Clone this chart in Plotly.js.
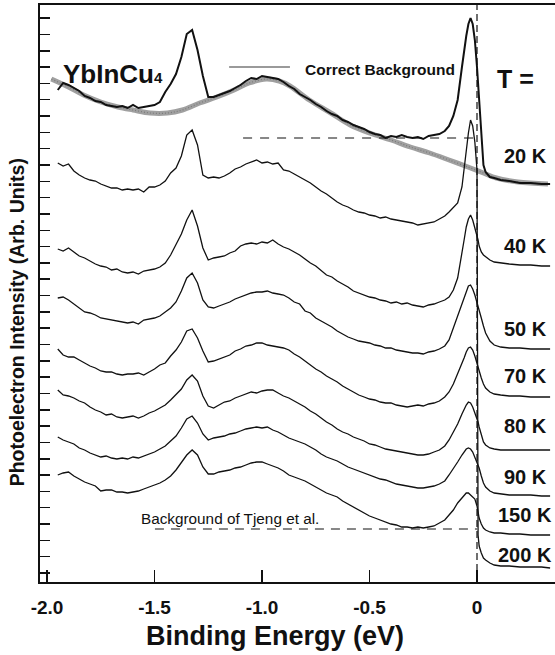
<!DOCTYPE html>
<html>
<head>
<meta charset="utf-8">
<script src="https://cdn.plot.ly/plotly-3.0.1.min.js"></script>
<style>html,body{margin:0;padding:0;background:#fff;}#chart{width:555px;height:655px;}</style>
</head>
<body>
<div id="chart"></div>
<script>
// Binding energy grid (eV) shared by the spectra
const energy = [-1.950,-1.925,-1.900,-1.875,-1.850,-1.825,-1.800,-1.775,-1.750,-1.725,-1.700,-1.675,-1.650,-1.625,-1.600,-1.575,-1.550,-1.525,-1.500,-1.475,-1.450,-1.425,-1.400,-1.375,-1.350,-1.325,-1.300,-1.275,-1.250,-1.225,-1.200,-1.175,-1.150,-1.125,-1.100,-1.075,-1.050,-1.025,-1.000,-0.975,-0.950,-0.925,-0.900,-0.875,-0.850,-0.825,-0.800,-0.775,-0.750,-0.725,-0.700,-0.675,-0.650,-0.625,-0.600,-0.575,-0.550,-0.525,-0.500,-0.475,-0.450,-0.425,-0.400,-0.375,-0.350,-0.325,-0.300,-0.275,-0.250,-0.225,-0.200,-0.175,-0.150,-0.130,-0.110,-0.090,-0.070,-0.060,-0.050,-0.040,-0.030,-0.020,-0.010,0.000,0.005,0.010,0.020,0.030,0.040,0.060,0.080,0.110,0.150,0.200,0.250,0.300,0.340];

// Spectra (arbitrary units, offset)
const raw20K = [49.2,49.9,49.7,49.4,49.1,48.6,48.4,48.1,48.0,47.7, 47.6,47.5,47.6,47.4,47.7,47.4,47.5,47.6,47.7,48.0, 49.0,49.8,50.8,52.5,54.8,55.2,53.2,50.6,48.5,48.5, 48.7,48.9,49.1,49.4,49.7,50.1,50.4,50.3,50.6,50.5, 50.4,50.3,50.0,49.6,49.3,48.8,48.5,48.2,47.8,47.5, 47.1,46.8,46.6,46.2,46.0,45.7,45.5,45.3,45.0,44.8, 44.7,44.4,44.6,44.5,44.7,44.5,44.4,44.5,44.3,44.6, 44.7,44.8,45.1,45.6,46.6,48.2,51.5,53.2,54.6,55.8, 56.4,55.8,54.2,51.5,49.7,48.0,44.7,41.7,41.0,40.5, 40.4,40.2,40.1,39.9,39.9,39.8,39.8];
const spec20K = [41.9,41.6,41.8,41.1,40.7,40.4,40.2,40.1,39.8,39.6, 39.4,39.4,39.2,39.3,39.2,39.3,39.0,39.5,39.5,39.7, 40.1,40.9,41.4,42.6,44.7,45.2,43.7,40.7,40.4,40.5, 40.4,40.6,40.9,41.3,41.5,41.8,42.0,42.2,41.9,42.0, 41.8,41.9,41.2,41.1,40.8,40.5,40.2,39.9,39.5,39.1, 38.8,38.4,38.0,37.7,37.5,37.2,37.0,36.9,36.7,36.6, 36.4,36.5,36.3,36.2,36.1,36.0,35.9,35.7,35.8,35.9, 36.0,36.3,36.6,37.0,37.4,37.9,39.5,41.4,43.0,44.9, 46.2,45.6,44.0,41.2,4.7,3.6,2.9,2.4,2.2,1.9, 1.7,1.6,1.6,1.5,1.5,1.5,1.4];
const spec40K = [33.3,33.1,33.4,33.0,32.6,32.4,32.1,31.8,31.6,31.5, 31.2,31.3,31.0,30.9,31.0,30.8,31.1,31.2,31.3,31.5, 31.9,32.7,33.7,34.8,36.2,37.2,35.6,33.4,32.2,32.4, 32.5,32.6,32.9,33.1,33.6,33.8,33.9,33.8,34.0,33.9, 34.2,33.8,33.5,33.3,33.0,32.7,32.3,31.9,31.6,31.1, 30.7,30.5,30.1,29.8,29.5,29.1,28.9,28.7,28.5,28.4, 28.2,28.1,27.9,28.0,27.8,27.9,27.7,27.6,27.5,27.7, 27.8,28.0,28.2,28.5,29.2,30.4,32.7,34.2,35.5,36.3, 36.7,36.2,35.4,34.7,34.2,33.6,33.0,32.7,32.5,32.2, 32.0,31.9,31.8,31.7,31.7,31.6,31.6];
const spec50K = [28.4,28.5,28.2,27.8,27.4,27.0,26.9,26.7,26.4,26.3, 26.2,26.1,26.0,25.9,26.0,25.8,26.2,26.3,26.4,26.6, 27.0,27.4,28.0,29.1,30.4,30.9,29.9,28.2,27.5,27.4, 27.6,27.8,28.0,28.3,28.5,28.7,28.9,29.0,29.0,29.1, 28.9,28.8,28.7,28.4,28.0,27.8,27.1,26.9,26.4,26.1, 25.8,25.5,25.1,24.8,24.5,24.3,24.1,24.0,23.9,23.7, 23.6,23.4,23.4,23.2,23.1,23.0,22.9,22.9,22.8,23.0, 23.1,23.3,23.6,24.2,25.4,26.6,28.0,28.6,29.2,29.6, 29.7,29.3,28.7,28.0,27.6,27.1,26.4,25.6,24.9,24.1, 23.7,23.5,23.4,23.4,23.3,23.3,23.3];
const spec70K = [23.3,22.7,22.5,22.5,22.2,21.9,21.6,21.4,21.1,21.0, 21.0,20.8,20.7,20.8,20.8,20.9,20.7,21.0,21.3,21.7, 21.9,22.6,23.2,24.0,25.1,25.3,24.4,23.1,22.0,22.1, 22.3,22.5,22.7,23.1,23.3,23.6,23.7,23.9,23.9,23.7, 23.6,23.5,23.4,23.2,22.8,22.5,22.1,21.7,21.3,21.0, 20.6,20.3,20.0,19.6,19.3,19.0,18.7,18.5,18.3,18.2, 18.0,17.9,17.9,17.7,17.6,17.5,17.6,17.7,17.6,17.8, 17.9,18.1,18.5,19.0,19.8,20.8,21.8,22.4,23.0,23.4, 23.5,23.2,22.6,21.8,21.4,21.0,20.4,19.8,19.4,19.0, 18.8,18.7,18.6,18.6,18.5,18.5,18.5];
const spec80K = [19.2,18.7,18.6,18.4,18.1,17.9,17.5,17.2,17.0,16.7, 16.8,16.5,16.4,16.5,16.6,16.4,16.6,16.9,17.1,17.4, 17.7,18.2,18.7,19.3,20.2,20.7,20.1,18.6,17.6,17.4, 17.7,18.0,18.1,18.4,18.6,18.8,19.0,18.9,19.1,19.2, 19.2,18.9,18.6,18.4,18.1,17.8,17.5,17.1,16.8,16.4, 16.0,15.7,15.3,15.0,14.8,14.5,14.3,14.1,13.8,13.7, 13.5,13.3,13.2,13.1,13.0,12.9,12.8,12.7,12.7,12.8, 13.0,13.2,13.6,14.2,15.0,15.8,16.8,17.3,17.7,18.0, 17.9,17.5,16.9,16.4,16.0,15.5,14.6,14.0,13.7,13.4, 13.3,13.2,13.2,13.2,13.2,13.2,13.2];
const spec90K = [14.5,14.2,14.0,13.8,13.4,13.2,12.9,12.7,12.5,12.6, 12.4,12.3,12.4,12.3,12.5,12.4,12.6,12.8,13.0,13.3, 13.6,14.1,14.6,15.4,16.3,16.6,15.9,14.8,14.2,14.4, 14.5,14.6,14.8,14.9,15.1,15.3,15.4,15.5,15.4,15.5, 15.2,15.0,14.7,14.4,14.2,14.0,13.8,13.5,13.2,12.8, 12.5,12.3,12.1,11.8,11.5,11.3,11.1,10.9,10.7,10.5, 10.3,10.2,10.0,9.8,9.7,9.6,9.5,9.4,9.4,9.5, 9.6,9.8,10.1,10.7,11.3,12.0,12.7,13.0,13.3,13.4, 13.3,13.0,12.5,12.0,11.7,11.4,10.6,9.9,9.5,9.1, 8.9,8.8,8.7,8.7,8.7,8.6,8.6];
const spec150K = [10.7,10.9,11.0,10.6,10.3,10.0,9.8,9.6,9.1,9.2, 9.2,9.0,9.0,8.9,9.0,9.1,9.3,9.5,9.7,9.9, 10.2,10.6,11.2,12.0,12.7,13.2,12.7,11.5,10.8,10.8, 11.0,11.1,11.2,11.4,11.5,11.7,11.9,12.0,12.0,11.8, 11.6,11.4,11.1,10.7,10.5,10.3,10.1,9.8,9.5,9.2, 8.9,8.7,8.5,8.1,7.8,7.5,7.2,6.9,6.6,6.4, 6.2,6.0,5.8,5.7,5.5,5.5,5.4,5.5,5.4,5.5, 5.6,5.9,6.2,6.7,7.2,7.9,8.4,8.7,8.9,8.9, 8.7,8.6,8.3,7.6,7.0,6.4,5.8,5.4,5.2,5.0, 4.9,4.9,4.8,4.8,4.7,4.7,4.7];

// Correct background (grey)
const bgEnergy = [-1.98,-1.90,-1.83,-1.75,-1.67,-1.60,-1.52,-1.44,-1.37,-1.29,-1.21,-1.13,-1.06,-0.98,-0.92,-0.87,-0.78,-0.68,-0.59,-0.50,-0.40,-0.31,-0.22,-0.13,-0.03,0.03,0.09,0.19,0.33];
const bgCorrect = [50.3,49.5,48.7,48.0,47.5,47.2,46.9,46.9,47.2,47.9,48.5,49.2,49.9,50.3,50.1,49.6,48.2,46.9,45.7,44.9,44.2,43.5,42.9,42.2,41.4,40.9,40.4,40.0,39.8];

// Labels
const tempLabels = ['20 K','40 K','50 K','70 K','80 K','90 K','150 K','200 K'];
const tempLabelLevels = [42.65,33.65,25.35,20.65,15.65,10.55,6.7,2.75];
const tickVals = [-2.0,-1.5,-1.0,-0.5,0];
const tickText = ['-2.0','-1.5','-1.0','-0.5','0'];

// Tjeng background levels and the Fermi level
const tjengTop = {x0:-1.088, x1:0.014, y:44.4};
const tjengBottom = {x0:-1.498, x1:0.0, y:5.3};
const fermiLevel = 0;

const black = '#111';
const traces = [
  {x:bgEnergy, y:bgCorrect, mode:'lines', line:{color:'#a0a0a0', width:5, shape:'spline'}},
  {x:bgEnergy, y:bgCorrect, mode:'lines', line:{color:'#7a7a7a', width:1.2, shape:'spline', dash:'1px,2px'}},
  {x:energy, y:raw20K, mode:'lines', line:{color:black, width:2}},
  {x:energy, y:spec20K, mode:'lines', line:{color:black, width:1.3}},
  {x:energy, y:spec40K, mode:'lines', line:{color:black, width:1.3}},
  {x:energy, y:spec50K, mode:'lines', line:{color:black, width:1.3}},
  {x:energy, y:spec70K, mode:'lines', line:{color:black, width:1.3}},
  {x:energy, y:spec80K, mode:'lines', line:{color:black, width:1.3}},
  {x:energy, y:spec90K, mode:'lines', line:{color:black, width:1.3}},
  {x:energy, y:spec150K, mode:'lines', line:{color:black, width:1.3}}
];

const fontFam = 'Liberation Sans, Arial, Helvetica, sans-serif';
const annotations = tempLabels.map((t,i)=>({
  x:0.2233, y:tempLabelLevels[i], xref:'x', yref:'y', text:'<b>'+t+'</b>', showarrow:false,
  xanchor:'center', yanchor:'middle', font:{family:fontFam, size:20, color:black}
}));
annotations.push(
  {x:-1.935, y:50.8, xref:'x', yref:'y', text:'<b>YbInCu<span style="font-size:15px">4</span></b>', showarrow:false, xanchor:'left', yanchor:'middle', font:{family:fontFam, size:26, color:black}},
  {x:-0.809, y:51.3, xref:'x', yref:'y', text:'<b>Correct Background</b>', showarrow:false, xanchor:'left', yanchor:'middle', font:{family:fontFam, size:15.5, color:black}},
  {x:0.181, y:50.3, xref:'x', yref:'y', text:'<b>T =</b>', showarrow:false, xanchor:'center', yanchor:'middle', font:{family:fontFam, size:25, color:black}},
  {x:-1.572, y:6.4, xref:'x', yref:'y', text:'Background of Tjeng et al.', showarrow:false, xanchor:'left', yanchor:'middle', font:{family:fontFam, size:15.3, color:black}},
  {x:0.456, y:-0.0936, xref:'paper', yref:'paper', text:'<b>Binding Energy (eV)</b>', showarrow:false, xanchor:'center', yanchor:'middle', font:{family:fontFam, size:27, color:black}},
  {x:-0.0447, y:0.45, xref:'paper', yref:'paper', text:'<b>Photoelectron Intensity (Arb. Units)</b>', showarrow:false, textangle:-90, xanchor:'center', yanchor:'middle', font:{family:fontFam, size:19.5, color:black}}
);

const shapes = [
  {type:'line', xref:'x', yref:'y', x0:-1.153, x1:-0.870, y0:51.5, y1:51.5, line:{color:'#9a9a9a', width:2}},
  {type:'line', xref:'x', yref:'y', x0:tjengTop.x0, x1:tjengTop.x1, y0:tjengTop.y, y1:tjengTop.y, line:{color:black, width:1.2, dash:'9px,8px'}},
  {type:'line', xref:'x', yref:'y', x0:tjengBottom.x0, x1:tjengBottom.x1, y0:tjengBottom.y, y1:tjengBottom.y, line:{color:black, width:1.2, dash:'9px,7px'}},
  {type:'line', xref:'x', yref:'paper', x0:fermiLevel, x1:fermiLevel, y0:0, y1:1, line:{color:black, width:1.2, dash:'7px,4px'}}
];

const layout = {
  width:555, height:655,
  margin:{l:40, r:0, t:5, b:73},
  paper_bgcolor:'white', plot_bgcolor:'white',
  showlegend:false,
  font:{family:fontFam, color:black},
  xaxis:{range:[-2.0326,0.3628], tickmode:'array', tickvals:tickVals, ticktext:tickText.map(t=>'<b>'+t+'</b>'),
    ticks:'inside', ticklen:12, tickwidth:1.5, tickcolor:black, showline:true, linewidth:2, linecolor:black,
    mirror:true, showgrid:false, zeroline:false, tickfont:{family:fontFam, size:19, color:black}, ticklabelstandoff:7},
  yaxis:{range:[0,57.7], tick0:0.9, dtick:1.632, ticks:'inside', ticklen:10, tickwidth:1.5, tickcolor:black,
    showticklabels:false, showline:true, linewidth:2, linecolor:black, mirror:false, showgrid:false, zeroline:false},
  annotations:annotations,
  shapes:shapes,
  hovermode:false
};

Plotly.newPlot('chart', traces, layout, {staticPlot:true, displayModeBar:false});
</script>
</body>
</html>
